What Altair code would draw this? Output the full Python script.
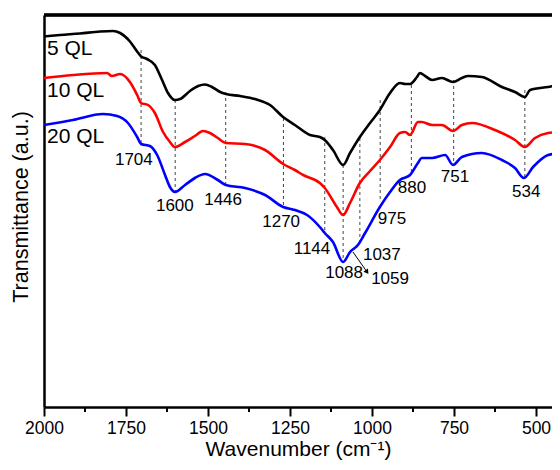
import altair as alt
import pandas as pd

# ---- data (wavenumber cm^-1, transmittance a.u.) ----
wn_5 = [2000, 1951, 1890, 1829, 1790, 1768, 1738, 1716, 1704, 1686, 1662, 1640, 1622, 1601, 1585,
        1555, 1530, 1509, 1488, 1463, 1445, 1402, 1357, 1311, 1271, 1235, 1189, 1159, 1144, 1119,
        1088, 1067, 1037, 1006, 976, 945, 915, 899, 884, 863, 854, 838, 817, 787, 753, 726, 707,
        665, 604, 564, 534, 518, 463, 427, 400]
t_5 = [370.5, 372, 373.5, 375.5, 376, 374, 365.5, 355.5, 350.5, 348, 342, 327, 314, 307, 308,
       316, 321, 322.5, 320, 315, 313, 311, 308, 302, 290, 282, 272, 270, 267, 257,
       242, 254, 270, 284, 297, 314, 324, 323, 323, 330, 334, 331, 327, 329, 325, 329, 331,
       330, 320, 315, 310, 317, 320, 322, 322]

wn_10 = [2000, 1912, 1808, 1793, 1768, 1738, 1716, 1704, 1683, 1662, 1637, 1616, 1601, 1570, 1540,
         1515, 1494, 1470, 1446, 1387, 1326, 1271, 1235, 1210, 1159, 1144, 1107, 1088, 1067, 1037,
         1006, 976, 945, 915, 899, 884, 860, 848, 817, 787, 753, 726, 695, 625, 564, 534, 503,
         463, 427, 400]
t_10 = [329, 332, 334, 331, 333, 325, 312, 304, 302, 294, 275, 265, 260, 265, 271,
        276, 274, 269, 264, 263, 257, 243, 237, 232, 224, 219, 200, 192, 204, 224,
        236, 247, 260, 274, 275, 272, 285, 285, 282, 282, 276, 282, 284, 277, 267, 260, 269,
        274, 275, 275]

wn_20 = [2000, 1912, 1820, 1777, 1744, 1716, 1704, 1677, 1655, 1631, 1616, 1601, 1570, 1540, 1509,
         1470, 1446, 1387, 1326, 1271, 1235, 1198, 1159, 1144, 1119, 1088, 1067, 1043, 1021, 976,
         945, 915, 884, 860, 848, 817, 777, 753, 726, 665, 604, 564, 537, 509, 463, 427, 400]
t_20 = [282, 287, 293, 291, 284, 270, 263, 261, 252, 232, 220, 215, 222, 229, 233,
        227, 222, 219, 212, 200, 197, 192, 180, 174, 165, 145, 155, 162, 174, 200,
        215, 227, 232, 244, 249, 249, 252, 242, 250, 254, 247, 239, 229, 240, 252, 254, 255]

series_names = ["5 QL", "10 QL", "20 QL"]
series_colors = ["#000000", "#ff0000", "#0000ff"]

# peak markers: wavenumber, top and bottom of the dashed guide
peak_wn = [1704, 1600, 1446, 1270, 1144, 1088, 1037, 975, 880, 751, 534]
peak_top = [357, 307, 315, 289, 270, 242, 269, 307, 322, 327, 317]
peak_bot = [262, 215, 222, 200, 174, 145, 162, 207, 232, 244, 230]

# peak labels
label_text = ["1704", "1600", "1446", "1270", "1144", "1088", "1037", "1059", "975", "880", "751", "534"]
label_wn = [1726, 1601, 1454, 1277, 1183, 1085, 970, 945, 939, 878, 747, 530]
label_t = [247, 201, 207, 185, 158, 134, 152, 128, 188, 219, 230, 215]

# arrow for 1059
arrow_wn = [1058, 1015]
arrow_t = [155, 135]

# curve names inside the plot
name_wn = [1991, 1991, 1991]
name_t = [358, 316, 270]

x_ticks = [2000, 1750, 1500, 1250, 1000, 750, 500]
x_minor = [1875, 1625, 1375, 1125, 875, 625]

# ---- tables ----
rows = []
for name, wns, ts in zip(series_names, [wn_5, wn_10, wn_20], [t_5, t_10, t_20]):
    for w, t in zip(wns, ts):
        rows.append({"series": name, "wn": w, "t": t})
df = pd.DataFrame(rows)
peaks = pd.DataFrame({"wn": peak_wn, "top": peak_top, "bot": peak_bot})
labels = pd.DataFrame({"text": label_text, "wn": label_wn, "t": label_t})
arrow = pd.DataFrame({"wn": [arrow_wn[0]], "wn2": [arrow_wn[1]], "t": [arrow_t[0]], "t2": [arrow_t[1]]})
arrow_head = pd.DataFrame({"wn": [arrow_wn[1]], "t": [arrow_t[1]]})
names = pd.DataFrame({"text": series_names, "wn": name_wn, "t": name_t, "series": series_names})
minor = pd.DataFrame({"wn": x_minor})

FONT = "Liberation Sans"
W, H = 508, 392

xscale = alt.Scale(domain=[451.2, 2000], reverse=True, nice=False, zero=False)
yscale = alt.Scale(domain=[0, 392], nice=False, zero=False)

x_enc = alt.X("wn:Q", scale=xscale,
              axis=alt.Axis(values=x_ticks, format="d", title="Wavenumber (cm⁻¹)",
                            tickSize=9, tickWidth=2, tickColor="black", labelFlush=False,
                            labelFontSize=17.5, labelPadding=3, labelColor="black",
                            titleFontSize=21, titleFontWeight="normal", titlePadding=2,
                            titleColor="black", grid=False, domainWidth=2.5,
                            domainColor="black", labelFont=FONT, titleFont=FONT))
y_enc = alt.Y("t:Q", scale=yscale,
              axis=alt.Axis(title="Transmittance (a.u.)", labels=False, ticks=False, grid=False,
                            titleFontSize=21.5, titleFontWeight="normal", titlePadding=12,
                            titleY=191.5,
                            titleColor="black", domainWidth=2.5, domainColor="black",
                            titleFont=FONT))

color_enc = alt.Color("series:N", scale=alt.Scale(domain=series_names, range=series_colors),
                      legend=None)

lines = alt.Chart(df).mark_line(strokeWidth=2.6, interpolate="monotone", clip=True).encode(
    x=x_enc, y=y_enc, color=color_enc,
    order=alt.Order("wn:Q", sort="descending"),
)

guides = alt.Chart(peaks).mark_rule(strokeDash=[3, 3], strokeWidth=1, color="#444444").encode(
    x="wn:Q", y="top:Q", y2="bot:Q")

peak_labels = alt.Chart(labels).mark_text(fontSize=17, font=FONT, color="black").encode(
    x="wn:Q", y="t:Q", text="text:N")

arrow_line = alt.Chart(arrow).mark_rule(strokeWidth=1, color="black").encode(
    x="wn:Q", x2="wn2:Q", y="t:Q", y2="t2:Q")
arrow_tip = alt.Chart(arrow_head).mark_point(shape="triangle-up", filled=True, size=30,
                                             angle=145, color="black", opacity=1).encode(
    x="wn:Q", y="t:Q")

curve_names = alt.Chart(names).mark_text(fontSize=21, font=FONT, align="left",
                                         baseline="middle", color="black").encode(
    x="wn:Q", y="t:Q", text="text:N")

minor_ticks = alt.Chart(minor).mark_rule(strokeWidth=2, color="black").encode(
    x="wn:Q", y=alt.value(H), y2=alt.value(H + 5))

top_border = alt.Chart(minor).mark_rule(strokeWidth=2.5, color="black").encode(
    x=alt.value(0), x2=alt.value(W), y=alt.value(0))

chart = alt.layer(guides, lines, peak_labels, arrow_line, arrow_tip, curve_names, minor_ticks,
                  top_border).properties(
    width=W, height=H,
    autosize=alt.AutoSizeParams(type="none"),
    padding={"left": 36, "top": 7, "right": 0, "bottom": 55},
).configure_view(stroke=None).configure(background="white")

chart.save("out.html", embed_options={"renderer": "svg", "actions": False})
